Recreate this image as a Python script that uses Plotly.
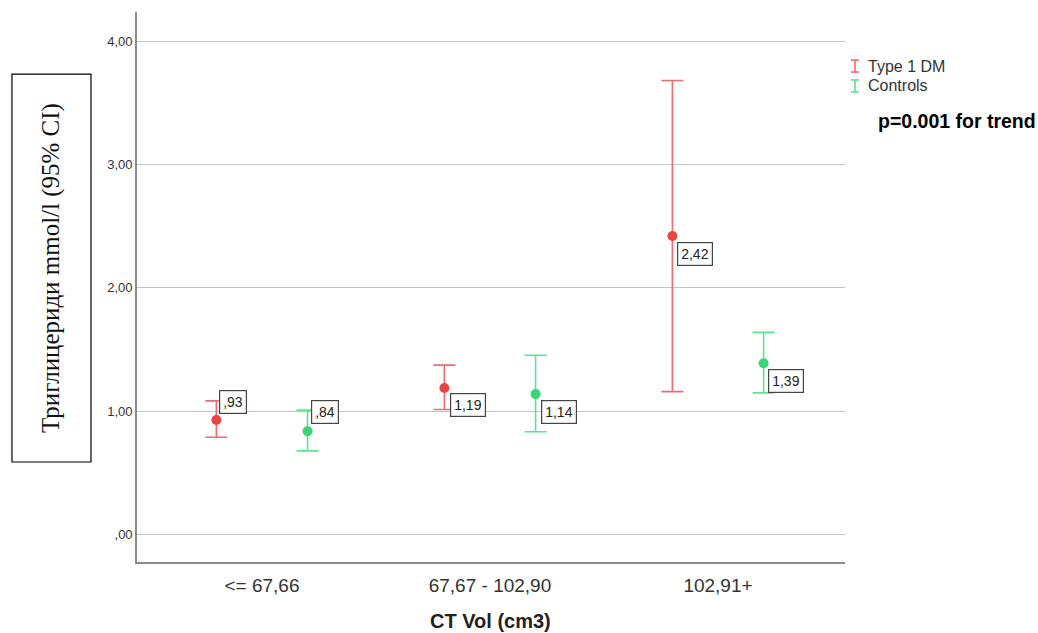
import plotly.graph_objects as go

# Categories of CT volume (cm3)
categories = ["<= 67,66", "67,67 - 102,90", "102,91+"]

# Triglycerides, mmol/l: means and 95% CI bounds
t1dm_mean = [0.93, 1.19, 2.42]
t1dm_lower = [0.79, 1.015, 1.16]
t1dm_upper = [1.085, 1.375, 3.68]

ctrl_mean = [0.84, 1.14, 1.39]
ctrl_lower = [0.68, 0.835, 1.15]
ctrl_upper = [1.01, 1.455, 1.64]

y_ticks = [0, 1, 2, 3, 4]
y_tick_text = [",00", "1,00", "2,00", "3,00", "4,00"]

RED_MARK, RED_BAR = "#e84545", "#f06b6b"
GREEN_MARK, GREEN_BAR = "#3ad675", "#5ee38e"

OFFSET = 0.2


def spss_fmt(v):
    s = f"{v:.2f}".replace(".", ",")
    return s[1:] if s.startswith("0") else s


def series(means, lows, highs, shift, mark_col, bar_col, name):
    xs = [i + shift for i in range(len(means))]
    return go.Scatter(
        x=xs, y=means, mode="markers", name=name, showlegend=False,
        marker=dict(color=mark_col, size=10),
        error_y=dict(
            type="data", symmetric=False,
            array=[h - m for h, m in zip(highs, means)],
            arrayminus=[m - l for m, l in zip(means, lows)],
            color=bar_col, thickness=1.6, width=11,
        ),
        hoverinfo="skip",
    )


fig = go.Figure()
fig.add_trace(series(t1dm_mean, t1dm_lower, t1dm_upper, -OFFSET, RED_MARK, RED_BAR, "Type 1 DM"))
fig.add_trace(series(ctrl_mean, ctrl_lower, ctrl_upper, OFFSET, GREEN_MARK, GREEN_BAR, "Controls"))

# value labels: (xshift, yshift, anchor) per point
label_pos_t1 = [(3, 6, "bottom"), (6, -5, "top"), (5, -6, "top")]
label_pos_ct = [(3, 7, "bottom"), (5, -6, "top"), (4, -6, "top")]

annotations = []
for means, shift, pos in ((t1dm_mean, -OFFSET, label_pos_t1), (ctrl_mean, OFFSET, label_pos_ct)):
    for i, m in enumerate(means):
        xs, ys, ya = pos[i]
        annotations.append(dict(
            x=i + shift, y=m, xref="x", yref="y", text=spss_fmt(m),
            showarrow=False, xanchor="left", yanchor=ya, xshift=xs, yshift=ys,
            font=dict(family="Arial, Liberation Sans", size=14, color="#222"),
            bgcolor="white", bordercolor="#444", borderwidth=1.2, borderpad=3,
        ))

# y-axis title in a box
annotations.append(dict(
    x=-0.1215, y=0.5345, xref="paper", yref="paper", text="Триглицериди mmol/l (95% CI)",
    textangle=-90, showarrow=False, xanchor="center", yanchor="middle",
    font=dict(family="Liberation Serif, Times New Roman", size=25, color="#111"),
))
# x-axis title
annotations.append(dict(
    x=0.4986, y=-0.1073, xref="paper", yref="paper", text="<b>CT Vol (cm3)</b>",
    showarrow=False, xanchor="center", yanchor="middle",
    font=dict(family="Arial, Liberation Sans", size=20, color="#222"),
))
# legend text
for txt, yy in (("Type 1 DM", 0.9018), ("Controls", 0.8655)):
    annotations.append(dict(
        x=1.030, y=yy, xref="paper", yref="paper", text=txt, showarrow=False,
        xanchor="left", yanchor="middle",
        font=dict(family="Arial, Liberation Sans", size=16, color="#333"),
    ))
annotations.append(dict(
    x=1.0435, y=0.8018, xref="paper", yref="paper", text="<b>p=0.001 for trend</b>",
    showarrow=False, xanchor="left", yanchor="middle",
    font=dict(family="Arial, Liberation Sans", size=19.5, color="#000"),
))

shapes = [dict(type="rect", xref="paper", yref="paper", x0=-0.1766, x1=-0.065,
               y0=0.1818, y1=0.887, line=dict(color="black", width=1.2))]
# legend error-bar icons
for col, yc in ((RED_BAR, 0.9018), (GREEN_BAR, 0.8655)):
    common = dict(type="line", xref="paper", yref="paper", xsizemode="pixel",
                  ysizemode="pixel", xanchor=1.0141, yanchor=yc,
                  line=dict(color=col, width=1.6))
    shapes.append(dict(common, x0=0, x1=0, y0=-6, y1=6))
    shapes.append(dict(common, x0=-4, x1=4, y0=6, y1=6))
    shapes.append(dict(common, x0=-4, x1=4, y0=-6, y1=-6))

fig.update_layout(
    width=1038, height=633,
    margin=dict(l=137, r=193, t=12, b=71),
    paper_bgcolor="white", plot_bgcolor="white",
    annotations=annotations, shapes=shapes,
    xaxis=dict(
        range=[-0.548, 2.557], tickvals=[0, 1, 2], ticktext=categories,
        showgrid=False, zeroline=False, showline=True, linecolor="#8a8a8a", linewidth=1.6,
        tickfont=dict(family="Arial, Liberation Sans", size=19, color="#333"),
        ticks="", ticklabelstandoff=5,
    ),
    yaxis=dict(
        range=[-0.22, 4.235], tickvals=y_ticks, ticktext=y_tick_text,
        showgrid=True, gridcolor="#c4c4c4", gridwidth=1.3, zeroline=False,
        showline=True, linecolor="#8a8a8a", linewidth=1.6,
        tickfont=dict(family="Arial, Liberation Sans", size=13, color="#333"),
        ticks="",
    ),
)

fig.write_html("out.html")
